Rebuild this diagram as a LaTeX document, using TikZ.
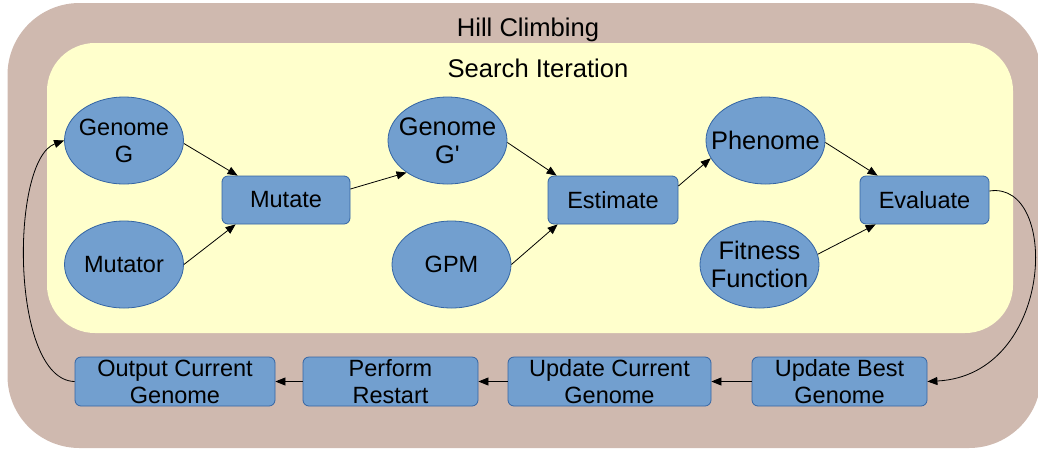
\documentclass[tikz,border=0pt]{standalone}
\usepackage{fontspec}
\setmainfont{Liberation Sans}
\usetikzlibrary{arrows.meta,shapes.geometric}

\definecolor{outerbg}{HTML}{CFB9AF}
\definecolor{innerbg}{HTML}{FFFFCC}
\definecolor{nodefill}{HTML}{729FCF}
\definecolor{nodeline}{HTML}{3465A4}

\newcommand\boxtextfont{\fontsize{23.5}{27}\selectfont}
\newcommand\bigboxtextfont{\fontsize{25.4}{28}\selectfont}
\newcommand\titletextfont{\fontsize{25.6}{30}\selectfont}

\begin{document}
\begin{tikzpicture}[x=1pt,y=-1pt,
  box/.style={draw=nodeline, fill=nodefill, rounded corners=6pt, line width=0.8pt,
    inner sep=0pt, align=center, font=\boxtextfont},
  ell/.style={ellipse, draw=nodeline, fill=nodefill, line width=0.8pt, inner sep=0pt,
    minimum width=119pt, minimum height=87pt},
  lbl/.style={align=center, font=\boxtextfont, inner sep=0pt},
  biglbl/.style={lbl, font=\bigboxtextfont},
  ttl/.style={font=\titletextfont, inner sep=0pt, anchor=base},
  conn/.style={-{Triangle[length=10pt,width=8pt]}, line width=0.8pt},
]
\useasboundingbox (0,0) rectangle (1038,451);
\clip (0,0) rectangle (1038,451);

% nested scopes
\fill[outerbg, rounded corners=72pt] (7.5,3) rectangle (1041,448);
\fill[innerbg, rounded corners=48pt] (47,43) rectangle (1013,333);
\node[ttl] (hc) at (528,36) {Hill Climbing};
\node[ttl] (si) at (538,77) {Search Iteration};

% inputs and intermediate results
\node[ell] (genG) at (124,140.5) {};
\node[lbl] (genGt) at (genG) {Genome\\G};
\node[ell] (mutator) at (124,264.5) {};
\node[lbl] (mutatort) at (mutator) {Mutator};
\node[ell] (genG2) at (447.5,140.5) {};
\node[biglbl] (genG2t) at (genG2) {Genome\\G\textquotesingle};
\node[ell] (gpm) at (451.5,264.5) {};
\node[lbl] (gpmt) at (gpm) {GPM};
\node[ell] (phenome) at (765.5,140.5) {};
\node[biglbl] (phenomet) at (phenome) {Phenome};
\node[ell] (fitness) at (759.5,264.5) {};
\node[biglbl] (fitnesst) at (fitness) {Fitness\\Function};

% operations
\node[box, minimum width=128pt, minimum height=48pt] (mutate) at (286,200) {Mutate};
\node[box, minimum width=130pt, minimum height=48pt] (estimate) at (613,200) {Estimate};
\node[box, minimum width=129pt, minimum height=48pt] (evaluate) at (924.5,200) {Evaluate};

\node[box, minimum width=200pt, minimum height=49pt] (outCur) at (175,381.5) {Output Current\\Genome};
\node[box, minimum width=175pt, minimum height=49pt] (restart) at (390.5,381.5) {Perform\\Restart};
\node[box, minimum width=203pt, minimum height=49pt] (updCur) at (609.5,381.5) {Update Current\\Genome};
\node[box, minimum width=175pt, minimum height=49pt] (updBest) at (839.5,381.5) {Update Best\\Genome};

% data flow
\draw[conn] ([yshift=-3pt]genG.east) -- ([xshift=16pt]mutate.north west);
\draw[conn] (mutator.east) -- ([xshift=14pt]mutate.south west);
\draw[conn] ([yshift=11pt]mutate.east) -- (genG2.218);
\draw[conn] ([yshift=-2pt]genG2.east) -- ([xshift=9pt]estimate.north west);
\draw[conn] (gpm.east) -- ([xshift=10pt]estimate.south west);
\draw[conn] ([yshift=14pt]estimate.east) -- (phenome.198);
\draw[conn] ([yshift=-2pt]phenome.east) -- ([xshift=18pt]evaluate.north west);
\draw[conn] (fitness.10) -- ([xshift=16pt]evaluate.south west);

\draw[conn] ([yshift=9pt]evaluate.east) .. controls (1060,180) and (1055,375) .. (updBest.east);
\draw[conn] (updBest.west) -- (updCur.east);
\draw[conn] (updCur.west) -- (restart.east);
\draw[conn] (restart.west) -- (outCur.east);
\draw[conn] (outCur.west) .. controls (10,380) and (10,160) .. (genG.west);
\end{tikzpicture}
\end{document}
